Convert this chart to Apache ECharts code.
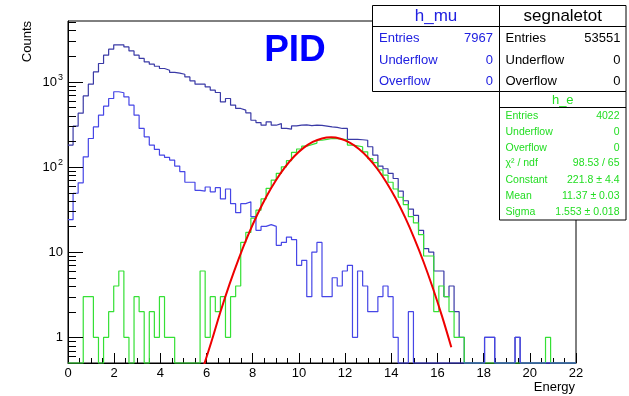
<!DOCTYPE html>
<html><head><meta charset="utf-8">
<script src="https://cdn.jsdelivr.net/npm/echarts@6/dist/echarts.min.js"></script>
<style>html,body{margin:0;padding:0;background:#fff}#c{width:629px;height:396px}</style>
</head><body><div id="c"></div>
<script>
// ---------- data ----------
const binMin = 0, binMax = 22, nBins = 100;
const yMin = 0.5, yMax = 5140;

// segnaletot (all particles)
const totalCounts = [
 180,300,426,680,933,1300,1630,2040,2400,2700,
 2700,2550,2290,2040,1870,1700,1600,1515,1425,1360,
 1280,1255,1220,1135,1020,933,933,867,793,745,
 578,634,529,484,462,430,352,331,308,337,
 308,322,282,277,302,308,310,305,308,306,
 300,294,290,282,282,210,210,208,205,172,
 137,102,95,84,73,52,40,32,27,18,
 11,10,6,6,3,4,2,1,0,0,
 0,0,1,1,0,0,0,0,1,0,
 0,0,0,0,0,0,0,0,0,0];

// h_mu
const muCounts = [
 24,49,65,131,215,294,404,515,634,760,
 740,661,529,404,282,225,180,160,137,129,
 120,102,88,66,66,53,52,58,51,57,
 42,55,37,29,37,39,26,18,20,21,
 20,12,13,15,14,7,8,3,10,13,
 3,3,5,4,6,7,1,6,4,2,
 2,3,4,3,1,0,0,2,0,0,
 0,0,0,0,0,0,0,0,0,0,
 0,0,1,1,0,0,0,0,1,0,
 0,0,0,0,0,0,0,0,0,0];

// h_e
const eCounts = [
 0,0,0,3,3,1,0,1,2,4,
 6,1,0,3,2,0,2,1,3,1,
 1,0,0,0,0,0,6,1,3,2,
 3,1,3,4,13,17,25,31,42,56,
 70,84,100,118,148,162,175,182,190,205,
 210,215,214,212,208,180,176,172,150,125,
 112,92,80,66,55,44,36,26,22,16,
 9,9,2,4,3,2,1,1,0,0,
 0,0,0,0,0,0,0,0,0,0,
 0,0,0,0,1,0,0,0,0,0];

// gaussian fit curve
const fitEnergy = [5.8,6.2,6.6,7.0,7.4,7.8,8.2,8.6,9.0,9.4,9.8,10.2,10.6,11.0,11.4,11.8,12.2,12.6,13.0,13.4,13.8,14.2,14.6,15.0,15.4,15.8,16.2,16.6];
const fitValues = [0.4,0.87,1.98,4.23,8.45,15.8,27.6,45.2,69.2,99.2,133.1,167.0,196.1,215.6,221.8,213.5,192.3,162.1,127.9,94.4,65.2,42.2,25.5,14.4,7.65,3.79,1.76,0.764];

// axis ticks
const yMajorTicks = [1, 10, 100, 1000];
const yMajorBase = ['1', '10', '10', '10'];
const yMajorExp = ['', '', '2', '3'];
const yMinorTicks = [0.6,0.7,0.8,0.9,2,3,4,5,6,7,8,9,20,30,40,50,60,70,80,90,200,300,400,500,600,700,800,900,2000,3000,4000,5000];

// stat boxes
const statLabels = ['Entries', 'Underflow', 'Overflow'];
const muStatValues = ['7967', '0', '0'];
const totStatValues = ['53551', '0', '0'];
const eStatLabels = ['Entries', 'Underflow', 'Overflow', 'χ² / ndf', 'Constant', 'Mean', 'Sigma'];
const eStatValues = ['4022', '0', '0', '98.53 / 65', '221.8 ± 4.4', '11.37 ± 0.03', '1.553 ± 0.018'];

// ---------- chart ----------
const FONT = "'Liberation Sans', Arial, Helvetica, sans-serif";
const C_TOT = '#3a3aa6', C_MU = '#4646e6', C_E = '#35e035', C_FIT = '#ee0000';
const C_MU_TXT = '#2020e0', C_E_TXT = '#22dd22';

function stepData(counts) {
  const w = (binMax - binMin) / nBins;
  const pts = counts.map((c, i) => [binMin + i * w, Math.max(c, yMin)]);
  pts.push([binMax, Math.max(counts[counts.length - 1], yMin)]);
  return pts;
}

function histSeries(counts, color, z) {
  return {
    type: 'line', step: 'end', data: stepData(counts), symbol: 'none',
    lineStyle: { color: color, width: 1.2 }, clip: false, z: z, silent: true
  };
}

const chart = echarts.init(document.getElementById('c'), null, { renderer: 'canvas' });

const graphics = [];
function statBox(x, y, w, h, title, titleColor, titleSize, sepY) {
  graphics.push({ type: 'rect', z: 100, shape: { x: x, y: y, width: w, height: h },
    style: { fill: '#fff', stroke: '#000', lineWidth: 1 } });
  graphics.push({ type: 'line', z: 101, shape: { x1: x, y1: sepY, x2: x + w, y2: sepY },
    style: { stroke: '#000', lineWidth: 1 } });
  graphics.push({ type: 'text', z: 102, style: { text: title, x: x + w / 2, y: (y + sepY) / 2 + 0.5,
    align: 'center', verticalAlign: 'middle', fontSize: titleSize, fill: titleColor, fontFamily: FONT } });
}
function statRows(labels, values, xl, xr, ys, color, size) {
  labels.forEach((l, i) => {
    graphics.push({ type: 'text', z: 102, style: { text: l, x: xl, y: ys[i], align: 'left', verticalAlign: 'middle', fontSize: size, fill: color, fontFamily: FONT } });
    graphics.push({ type: 'text', z: 102, style: { text: values[i], x: xr, y: ys[i], align: 'right', verticalAlign: 'middle', fontSize: size, fill: color, fontFamily: FONT } });
  });
}
statBox(372.5, 5.5, 127, 86, 'h_mu', C_MU_TXT, 17, 26.5);
statRows(statLabels, muStatValues, 379, 493, [38.5, 60, 81.5], C_MU_TXT, 13);
statBox(499.5, 5.5, 126.5, 86, 'segnaletot', '#000', 17, 26.5);
statRows(statLabels, totStatValues, 505.5, 620.5, [38.5, 60, 81.5], '#000', 13);
statBox(499.5, 91.5, 126.5, 128.5, 'h_e', C_E_TXT, 13, 107.5);
statRows(eStatLabels, eStatValues, 505.5, 619.5, [116, 132, 148, 163.5, 180, 196, 212], C_E_TXT, 10.5);

graphics.push({ type: 'text', z: 50, style: { text: 'PID', x: 295, y: 51, align: 'center', verticalAlign: 'middle',
  fontSize: 37, fontWeight: 'bold', fill: '#0000ff', fontFamily: FONT } });
graphics.push({ type: 'text', z: 50, x: 27, y: 21, rotation: Math.PI / 2, style: { text: 'Counts', x: 0, y: 0,
  align: 'right', verticalAlign: 'middle', fontSize: 13, fill: '#000', fontFamily: FONT } });
graphics.push({ type: 'text', z: 50, style: { text: 'Energy', x: 575, y: 387.5, align: 'right', verticalAlign: 'middle',
  fontSize: 13, fill: '#000', fontFamily: FONT } });

const option = {
  animation: false,
  grid: { left: 68, top: 21, width: 508, height: 342, show: true, borderColor: '#000', borderWidth: 1, backgroundColor: 'transparent' },
  xAxis: {
    type: 'value', min: binMin, max: binMax, interval: 2,
    axisLine: { onZero: false, lineStyle: { color: '#000', width: 1 } },
    axisTick: { inside: true, length: 10, lineStyle: { color: '#000' } },
    minorTick: { show: true, splitNumber: 4, length: 5, lineStyle: { color: '#000' } },
    axisLabel: { color: '#000', fontSize: 13, margin: 4, fontFamily: FONT },
    splitLine: { show: false }, minorSplitLine: { show: false }
  },
  yAxis: {
    type: 'log', logBase: 10, min: yMin, max: yMax,
    axisLine: { show: true, onZero: false, lineStyle: { color: '#000', width: 1 } },
    axisTick: { show: false }, axisLabel: { show: false }, splitLine: { show: false }
  },
  series: [
    histSeries(totalCounts, C_TOT, 2),
    histSeries(eCounts, C_E, 3),
    histSeries(muCounts, C_MU, 4),
    { type: 'line', data: fitEnergy.map((e, i) => [e, fitValues[i]]), smooth: 0.4, symbol: 'none',
      lineStyle: { color: C_FIT, width: 2 }, clip: true, z: 6, silent: true },
    { type: 'custom', z: 8, silent: true, clip: false,
      data: yMajorTicks.map((v, i) => [binMin, v, i]), encode: { x: 0, y: 1 },
      renderItem: (params, api) => {
        const p = api.coord([binMin, api.value(1)]);
        const yy = Math.round(p[1]) + 0.5;
        const i = api.value(2);
        const exp = yMajorExp[i];
        const children = [
          { type: 'line', shape: { x1: p[0], y1: yy, x2: p[0] + 15, y2: yy }, style: { stroke: '#000', lineWidth: 1 } }
        ];
        if (exp) {
          children.push({ type: 'text', style: { text: exp, x: p[0] - 5, y: p[1] - 4, align: 'right', verticalAlign: 'middle', fontSize: 9, fill: '#000', fontFamily: FONT } });
          children.push({ type: 'text', style: { text: yMajorBase[i], x: p[0] - 11, y: p[1] + 1, align: 'right', verticalAlign: 'middle', fontSize: 13, fill: '#000', fontFamily: FONT } });
        } else {
          children.push({ type: 'text', style: { text: yMajorBase[i], x: p[0] - 5, y: p[1] + 0.5, align: 'right', verticalAlign: 'middle', fontSize: 13, fill: '#000', fontFamily: FONT } });
        }
        return { type: 'group', children: children };
      } },
    { type: 'custom', z: 8, silent: true, clip: false,
      data: yMinorTicks.map(v => [binMin, v]), encode: { x: 0, y: 1 },
      renderItem: (params, api) => {
        const p = api.coord([binMin, api.value(1)]);
        const yy = Math.round(p[1]) + 0.5;
        return { type: 'line', shape: { x1: p[0], y1: yy, x2: p[0] + 8, y2: yy }, style: { stroke: '#000', lineWidth: 1 } };
      } }
  ],
  graphic: { elements: graphics }
};
chart.setOption(option);
</script>
</body></html>
